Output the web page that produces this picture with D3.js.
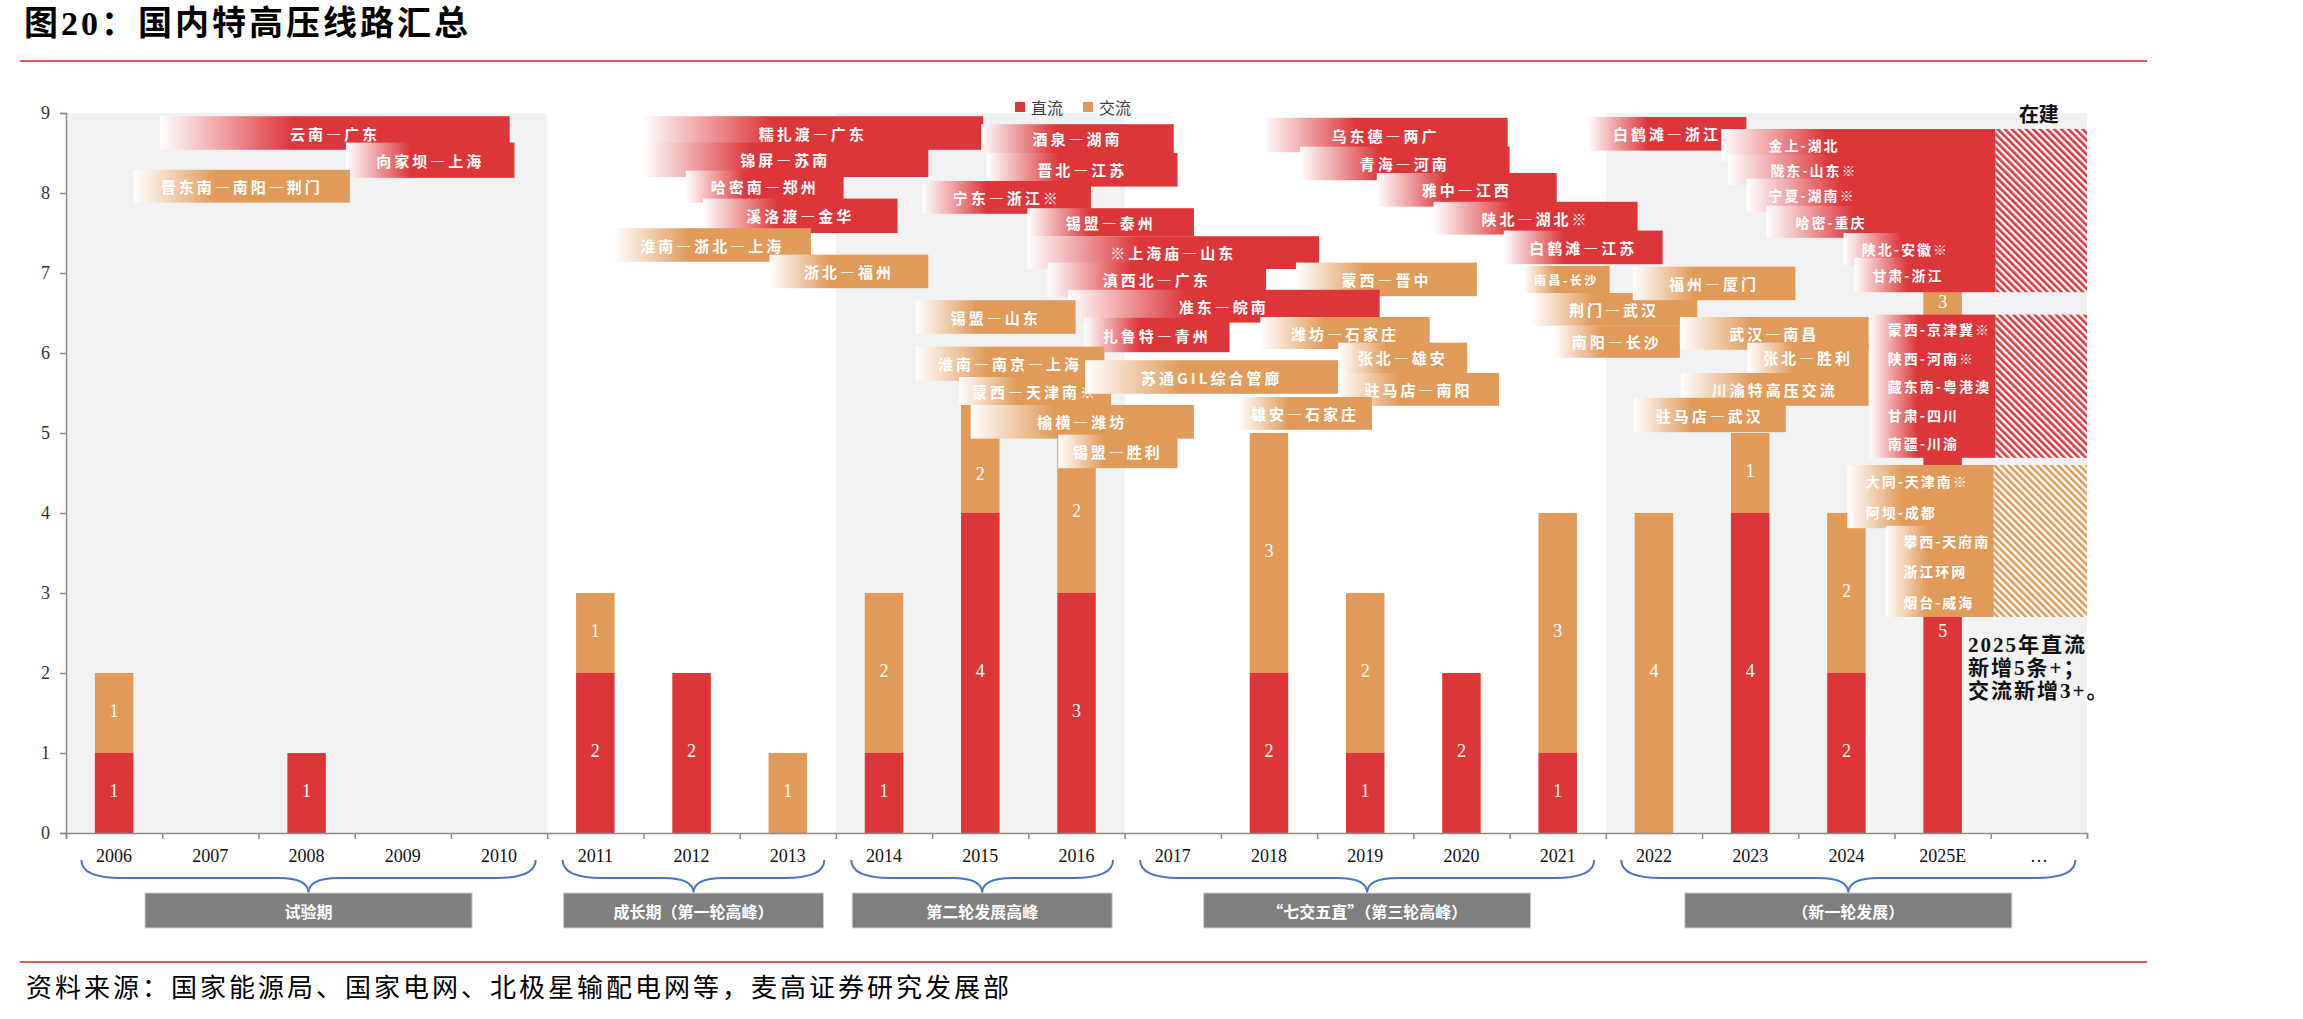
<!DOCTYPE html>
<html lang="zh">
<head>
<meta charset="UTF-8">
<title>国内特高压线路汇总</title>
<script src="https://d3js.org/d3.v7.min.js"></script>
<style>
  body { margin: 0; background: #fff; }
  svg { display: block; }
  .cjk { font-family: "Noto Sans CJK SC", sans-serif; }
  .num { font-family: "Liberation Serif", "Noto Sans CJK SC", serif; }
</style>
</head>
<body>
<svg id="chart" width="2303" height="1019"></svg>
<script>
// ---- data ----
const years = ["2006","2007","2008","2009","2010","2011","2012","2013","2014","2015","2016",
  "2017","2018","2019","2020","2021","2022","2023","2024","2025E","…"];
const dcCounts = [1,0,1,0,0,2,2,0,1,4,3,0,2,1,2,1,0,4,2,5,0];
const acCounts = [1,0,0,0,0,1,0,1,2,2,2,0,3,2,0,3,4,1,2,3,0];

const periodNames = ["试验期","成长期（第一轮高峰）","第二轮发展高峰","“七交五直”（第三轮高峰）","（新一轮发展）"];
const periodFrom = [0,5,8,11,16];
const periodTo = [4,7,10,15,20];

// route label boxes: type, text lines, start / end (category units), top / bottom (count axis), text start (optional)
const routeLabels = [
  ["直流",["云南—广东"],0.98,4.61,8.96,8.54],
  ["直流",["向家坝—上海"],2.91,4.66,8.63,8.19],
  ["交流",["晋东南—南阳—荆门"],0.70,2.95,8.29,7.88],
  ["直流",["糯扎渡—广东"],5.99,9.53,8.96,8.54],
  ["直流",["锦屏—苏南"],5.99,8.96,8.63,8.20],
  ["直流",["哈密南—郑州"],6.44,8.08,8.28,7.88],
  ["直流",["溪洛渡—金华"],6.62,8.64,7.93,7.50],
  ["交流",["淮南—浙北—上海"],5.69,7.74,7.56,7.14],
  ["交流",["浙北—福州"],7.31,8.96,7.23,6.81],
  ["直流",["酒泉—湖南"],9.51,11.51,8.86,8.50],
  ["直流",["晋北—江苏"],9.57,11.55,8.50,8.08],
  ["直流",["宁东—浙江※"],8.90,10.65,8.15,7.74],
  ["直流",["锡盟—泰州"],9.99,11.72,7.81,7.46],
  ["直流",["※上海庙—山东"],9.99,13.02,7.46,7.05],
  ["直流",["滇西北—广东"],10.20,12.47,7.13,6.70],
  ["交流",["蒙西—晋中"],12.78,14.66,7.13,6.71],
  ["直流",["准东—皖南"],10.41,13.65,6.79,6.38],
  ["直流",["扎鲁特—青州"],10.58,12.09,6.44,6.01],
  ["交流",["锡盟—山东"],8.83,10.49,6.66,6.24],
  ["交流",["淮南—南京—上海"],8.83,10.79,6.08,5.65],
  ["交流",["蒙西—天津南※"],9.28,10.86,5.70,5.35],
  ["交流",["苏通GIL综合管廊"],10.59,13.22,5.91,5.49],
  ["交流",["榆横—潍坊"],9.40,11.72,5.35,4.93],
  ["交流",["锡盟—胜利"],10.31,11.55,4.98,4.56],
  ["交流",["潍坊—石家庄"],12.41,14.17,6.45,6.05],
  ["交流",["张北—雄安"],13.22,14.56,6.13,5.75],
  ["交流",["驻马店—南阳"],13.22,14.89,5.75,5.34],
  ["交流",["雄安—石家庄"],12.18,13.57,5.45,5.04],
  ["直流",["乌东德—两广"],12.44,14.98,8.94,8.51],
  ["直流",["青海—河南"],12.82,15.00,8.58,8.16],
  ["直流",["雅中—江西"],13.62,15.49,8.25,7.83],
  ["直流",["陕北—湖北※"],14.21,16.33,7.89,7.48],
  ["直流",["白鹤滩—江苏"],14.94,16.59,7.53,7.11],
  ["直流",["白鹤滩—浙江"],15.81,17.46,8.95,8.53],
  ["交流",["南昌-长沙"],15.14,16.04,7.09,6.75],
  ["交流",["荆门—武汉"],15.22,16.95,6.75,6.34],
  ["交流",["南阳—长沙"],15.46,16.77,6.34,5.94],
  ["交流",["福州—厦门"],16.28,17.97,7.08,6.66],
  ["交流",["武汉—南昌"],16.77,18.73,6.45,6.04],
  ["交流",["张北—胜利"],17.47,18.73,6.13,5.75],
  ["交流",["川渝特高压交流"],16.78,18.73,5.75,5.34],
  ["交流",["驻马店—武汉"],16.29,17.87,5.44,5.01],
  ["直流",["金上-湖北"],17.20,20.05,8.80,8.39,17.69],
  ["直流",["陇东-山东※"],17.27,20.05,8.48,8.10,17.71],
  ["直流",["宁夏-湖南※"],17.46,20.05,8.18,7.76,17.69],
  ["直流",["哈密-重庆"],17.67,20.05,7.84,7.44,17.97],
  ["直流",["陕北-安徽※"],18.47,20.05,7.50,7.09,18.66],
  ["直流",["甘肃-浙江"],18.58,20.05,7.19,6.76,18.77],
  ["直流",["蒙西-京津冀※","陕西-河南※","藏东南-粤港澳","甘肃-四川","南疆-川渝"],18.74,20.05,6.48,4.69,18.93],
  ["交流",["大同-天津南※","阿坝-成都"],18.51,20.03,4.60,3.81,18.70],
  ["交流",["攀西-天府南","浙江环网","烟台-威海"],18.91,20.05,3.84,2.70,19.09]
];

// lines under construction (hatched)
const buildingBlocks = [
  ["直流",20.05,21,8.80,6.76],
  ["直流",20.05,21,6.48,4.69],
  ["交流",20.03,21,4.60,2.70]
];

const noteLines = ["2025年直流","新增5条+；","交流新增3+。"];

// ---- setup ----
const color = { "直流": "#dc363b", "交流": "#e09a5a" };
const svg = d3.select("#chart");

const x = d3.scaleBand().domain(years).range([66, 2087]);
const u = d3.scaleLinear().domain([0, years.length]).range([66, 2087]);
const y = d3.scaleLinear().domain([0, 9]).range([833, 113]);

const defs = svg.append("defs");
Object.entries(color).forEach(([k, c], i) => {
  const g = defs.append("linearGradient").attr("id", "grad" + i)
    .attr("x1", "0%").attr("x2", "100%").attr("y1", "0%").attr("y2", "0%");
  g.append("stop").attr("offset", "0%").attr("stop-color", "#ffffff");
  g.append("stop").attr("offset", "38%").attr("stop-color", c);
  g.append("stop").attr("offset", "100%").attr("stop-color", c);

  const p = defs.append("pattern").attr("id", "hatch" + i)
    .attr("patternUnits", "userSpaceOnUse").attr("width", 5).attr("height", 5)
    .attr("patternTransform", "rotate(-45)");
  p.append("rect").attr("width", 5).attr("height", 5).attr("fill", "#fff");
  p.append("rect").attr("width", 2.6).attr("height", 5).attr("fill", c);
});
const gradOf = t => t === "直流" ? "url(#grad0)" : "url(#grad1)";
const hatchOf = t => t === "直流" ? "url(#hatch0)" : "url(#hatch1)";

// title + rules
svg.append("text").attr("class", "num").attr("x", 24).attr("y", 27)
  .attr("dominant-baseline", "middle").attr("font-size", 34).attr("font-weight", "bold")
  .attr("letter-spacing", 3).attr("fill", "#000").text("图20：国内特高压线路汇总");
svg.append("line").attr("x1", 20).attr("x2", 2147).attr("y1", 61).attr("y2", 61)
  .attr("stroke", "#e05a5e").attr("stroke-width", 2);
svg.append("line").attr("x1", 20).attr("x2", 2147).attr("y1", 962).attr("y2", 962)
  .attr("stroke", "#e05a5e").attr("stroke-width", 2);
svg.append("text").attr("class", "cjk").attr("x", 26).attr("y", 990)
  .attr("dominant-baseline", "middle").attr("font-size", 26).attr("letter-spacing", 3)
  .attr("fill", "#000")
  .text("资料来源：国家能源局、国家电网、北极星输配电网等，麦高证券研究发展部");

// shaded periods
svg.append("g").selectAll("rect")
  .data(periodNames.map((n, i) => ({ i, from: periodFrom[i], to: periodTo[i] })).filter(d => d.i % 2 === 0))
  .join("rect")
  .attr("x", d => u(d.from)).attr("width", d => u(d.to + 1) - u(d.from))
  .attr("y", y(9)).attr("height", y(0) - y(9))
  .attr("fill", "#f2f2f2");

// bars
const rows = years.map((yr, i) => ({ year: yr, "直流": dcCounts[i], "交流": acCounts[i] }));
const series = d3.stack().keys(["直流", "交流"])(rows);
const barW = x.bandwidth() * 0.4;

const barG = svg.append("g");
series.forEach(s => {
  barG.selectAll(null).data(s.filter(d => d[1] > d[0])).join("rect")
    .attr("x", d => x(d.data.year) + (x.bandwidth() - barW) / 2)
    .attr("width", barW)
    .attr("y", d => y(d[1])).attr("height", d => y(d[0]) - y(d[1]))
    .attr("fill", color[s.key]);
});

// value labels: keep them clear of the route label boxes that sit over the bars
const labelBoxes = routeLabels.map(r => ({ type: r[0], lines: r[1], x0: r[2], x1: r[3], top: r[4], bottom: r[5], tx: r[6] }));
const valueLabels = [];
series.forEach(s => {
  s.filter(d => d[1] > d[0]).forEach(d => {
    const cu = years.indexOf(d.data.year) + 0.5;
    const over = labelBoxes.filter(b => cu >= b.x0 && cu <= b.x1);
    let mid = (d[0] + d[1]) / 2;
    const inside = over.filter(b => mid <= b.top && mid >= b.bottom);
    if (inside.length) {
      mid = (d[0] + d3.min(inside, b => b.bottom)) / 2;
    } else if (over.some(b => Math.abs(b.top - mid) < 0.15 || Math.abs(b.bottom - mid) < 0.15)) {
      const lo = d3.max(over.filter(b => b.top <= mid), b => b.top) ?? d[0];
      const hi = d3.min(over.filter(b => b.bottom >= mid), b => b.bottom) ?? d[1];
      mid = (Math.max(lo, d[0]) + Math.min(hi, d[1])) / 2;
    }
    valueLabels.push({ year: d.data.year, mid, value: d[1] - d[0] });
  });
});

// axes
const axisColor = "#8c8c8c";
const yAxis = svg.append("g").attr("transform", `translate(${u(0)},0)`)
  .call(d3.axisLeft(y).ticks(9).tickSize(6).tickPadding(10));
yAxis.selectAll("text").attr("class", "num").attr("font-size", 18).attr("fill", "#333");
yAxis.selectAll("line,path").attr("stroke", axisColor).attr("stroke-width", 1.5);

const xTicks = svg.append("g").attr("transform", `translate(0,${y(0)})`)
  .call(d3.axisBottom(u).tickValues(d3.range(0, years.length + 1)).tickSize(6).tickFormat(""));
xTicks.selectAll("line,path").attr("stroke", axisColor).attr("stroke-width", 1.5);

const xAxis = svg.append("g").attr("transform", `translate(0,${y(0)})`)
  .call(d3.axisBottom(x).tickSize(0).tickPadding(16));
xAxis.select(".domain").remove();
xAxis.selectAll("text").attr("class", "num").attr("font-size", 18).attr("fill", "#111");

// route label boxes
const boxG = svg.append("g");
labelBoxes.forEach(b => {
  const bx = u(b.x0), bw = u(b.x1) - u(b.x0);
  const by = y(b.top), bh = y(b.bottom) - y(b.top);
  boxG.append("rect").attr("x", bx).attr("y", by).attr("width", bw).attr("height", bh)
    .attr("fill", gradOf(b.type));
  const step = bh / b.lines.length;
  b.lines.forEach((line, j) => {
    const multi = b.tx !== undefined;
    const t = boxG.append("text").attr("class", "cjk")
      .attr("x", multi ? u(b.tx) : bx + bw / 2)
      .attr("y", by + step * (j + 0.5))
      .attr("text-anchor", multi ? "start" : "middle")
      .attr("dominant-baseline", "central")
      .attr("font-size", multi ? 14 : 15).attr("font-weight", "bold")
      .attr("letter-spacing", multi ? 2 : 3)
      .attr("fill", "#fff").text(line);
    if (!multi) {
      const w = t.node().getComputedTextLength();
      const maxW = bw - 22;
      if (w > maxW) {
        const k = maxW / w;
        t.attr("font-size", 15 * k).attr("letter-spacing", 3 * k);
      }
    }
  });
});

// bar value labels
svg.append("g").selectAll("text").data(valueLabels).join("text").attr("class", "num")
  .attr("x", d => x(d.year) + x.bandwidth() / 2).attr("y", d => y(d.mid))
  .attr("text-anchor", "middle").attr("dominant-baseline", "middle")
  .attr("font-size", 18).attr("fill", "#fff")
  .text(d => d.value);

// under-construction hatching
svg.append("g").selectAll("rect").data(buildingBlocks).join("rect")
  .attr("x", d => u(d[1])).attr("width", d => u(d[2]) - u(d[1]))
  .attr("y", d => y(d[3])).attr("height", d => y(d[4]) - y(d[3]))
  .attr("fill", d => hatchOf(d[0]));

svg.append("text").attr("class", "cjk").attr("x", u(20.5)).attr("y", 117)
  .attr("text-anchor", "middle").attr("dominant-baseline", "middle")
  .attr("font-size", 20).attr("font-weight", "bold").attr("fill", "#111").text("在建");

// note
svg.append("g").selectAll("text").data(noteLines).join("text").attr("class", "num")
  .attr("x", 1968).attr("y", (d, i) => 647 + i * 23)
  .attr("dominant-baseline", "middle").attr("font-size", 21).attr("font-weight", "bold")
  .attr("letter-spacing", 2).attr("fill", "#111").text(d => d);

// legend
const legend = svg.append("g").attr("transform", "translate(1015,107)");
["直流", "交流"].forEach((k, i) => {
  const g = legend.append("g").attr("transform", `translate(${i * 68},0)`);
  g.append("rect").attr("x", 0).attr("y", -5).attr("width", 10).attr("height", 10).attr("fill", color[k]);
  g.append("text").attr("class", "cjk").attr("x", 16).attr("y", 0)
    .attr("dominant-baseline", "central").attr("font-size", 16).attr("fill", "#404040").text(k);
});

// period braces and boxes
const periods = periodNames.map((n, i) => {
  const xa = x(years[periodFrom[i]]) + x.bandwidth() * 0.16;
  const xb = x(years[periodTo[i]]) + x.bandwidth() * 0.88;
  return { name: n, xa, xb, xc: (xa + xb) / 2 };
});
const yTop = 860, yMid = 878, yTip = 893;
const pG = svg.append("g");
periods.forEach(p => {
  const path = d3.path();
  path.moveTo(p.xa, yTop);
  path.quadraticCurveTo(p.xa, yMid, p.xa + 40, yMid);
  path.lineTo(p.xc - 30, yMid);
  path.quadraticCurveTo(p.xc, yMid, p.xc, yTip);
  path.quadraticCurveTo(p.xc, yMid, p.xc + 30, yMid);
  path.lineTo(p.xb - 40, yMid);
  path.quadraticCurveTo(p.xb, yMid, p.xb, yTop);
  pG.append("path").attr("d", path.toString()).attr("fill", "none")
    .attr("stroke", "#4a74c6").attr("stroke-width", 2);
  const bw = Math.max(260, (p.xb - p.xa) * 0.72);
  pG.append("rect").attr("x", p.xc - bw / 2).attr("y", yTip).attr("width", bw).attr("height", 35)
    .attr("fill", "#7f7f7f").attr("stroke", "#d0d0d0").attr("stroke-width", 1);
  pG.append("text").attr("class", "cjk").attr("x", p.xc).attr("y", yTip + 17.5)
    .attr("text-anchor", "middle").attr("dominant-baseline", "central")
    .attr("font-size", 16).attr("font-weight", "bold").attr("fill", "#fff").text(p.name);
});
</script>
</body>
</html>
